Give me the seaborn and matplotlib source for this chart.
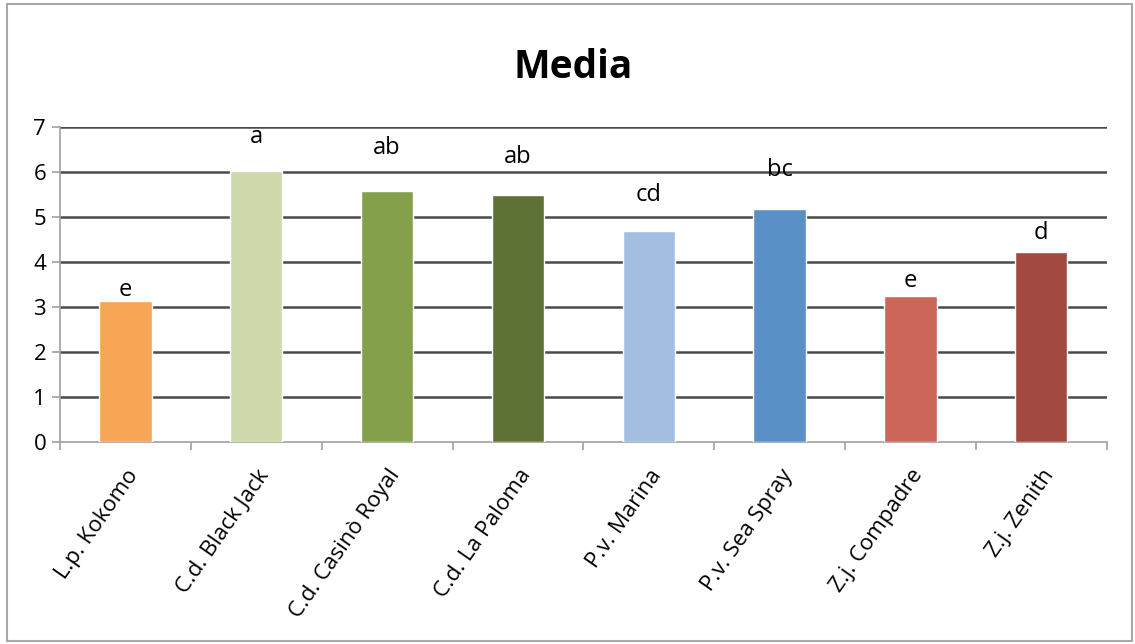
import numpy as np
import pandas as pd
import seaborn as sns
import matplotlib.pyplot as plt
from matplotlib.patches import Rectangle

cultivars = ["L.p. Kokomo", "C.d. Black Jack", "C.d. Casinò Royal", "C.d. La Paloma",
             "P.v. Marina", "P.v. Sea Spray", "Z.j. Compadre", "Z.j. Zenith"]
media = [3.13, 6.02, 5.58, 5.48, 4.69, 5.17, 3.24, 4.23]
letters = ["e", "a", "ab", "ab", "cd", "bc", "e", "d"]
letter_y = [3.38, 6.78, 6.53, 6.33, 5.49, 6.04, 3.58, 4.64]
colors = ["#F8A557", "#CDD9AA", "#84A04A", "#5E7236",
          "#A3BEE0", "#5B90C6", "#CC6659", "#A24A41"]

df = pd.DataFrame({"cultivar": cultivars, "media": media})

sns.set_style("white")
plt.rcParams['font.family'] = ['Open Sans', 'DejaVu Sans']
plt.rcParams['text.color'] = 'black'
plt.rcParams['xtick.color'] = 'black'
plt.rcParams['ytick.color'] = 'black'

fig = plt.figure(figsize=(11.35, 6.44), dpi=100)
ax = fig.add_axes([0.0529, 0.3137, 0.9221, 0.4891])

sns.barplot(data=df, x="cultivar", y="media", hue="cultivar", palette=colors,
            legend=False, width=0.4, saturation=1, ax=ax, zorder=3)

# lettere di significatività sopra le barre
for i, (lab, yy) in enumerate(zip(letters, letter_y)):
    ax.text(i, yy, lab, ha="center", va="center", fontsize=17, color="black", zorder=4)

ax.set_ylim(0, 7)
ax.set_xlim(-0.5, len(cultivars) - 0.5)
ax.set_yticks(range(0, 8))
for v in range(1, 8):
    ax.axhline(v, color="#4a4a4a", lw=1.8, zorder=1)

ax.set_xlabel("")
ax.set_ylabel("")
ax.set_xticks(range(len(cultivars)))
ax.set_xticklabels(cultivars, rotation=55, ha="right", rotation_mode="anchor", fontsize=16)
ax.set_xticks(np.arange(-0.5, len(cultivars)), minor=True)
ax.tick_params(axis="x", which="major", bottom=True, length=0, pad=17, labelcolor="black")
ax.tick_params(axis="x", which="minor", bottom=True, length=6, color="#a0a0a0", width=1.2,
               direction="out")
ax.tick_params(axis="y", left=True, length=6, color="#a0a0a0", width=1.2, direction="out",
               labelsize=16, pad=4, labelcolor="black")

for s in ["top", "right"]:
    ax.spines[s].set_visible(False)
for s in ["left", "bottom"]:
    ax.spines[s].set_color("#a0a0a0")
    ax.spines[s].set_linewidth(1.2)

fig.text(0.505, 0.895, "Media", ha="center", va="center", fontsize=28, weight="bold",
         color="black")
fig.patches.append(Rectangle((0.006, 0.004), 0.991, 0.99, transform=fig.transFigure,
                             fill=False, edgecolor="#a8a8a8", lw=1.5))

plt.savefig("out.png", dpi=100)
